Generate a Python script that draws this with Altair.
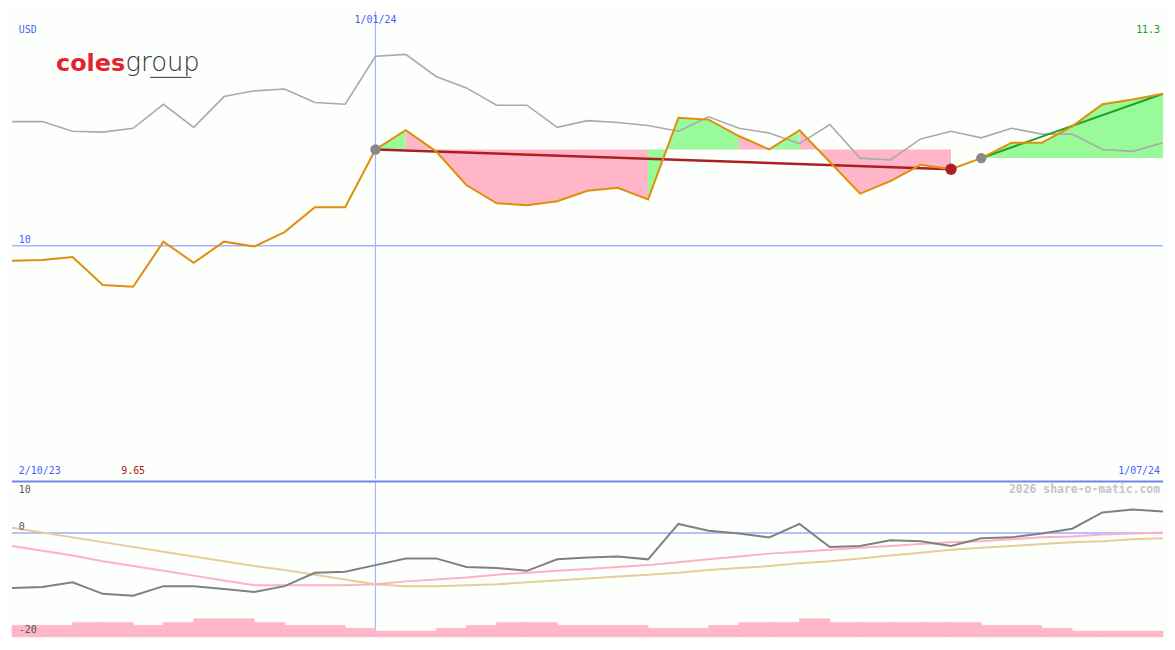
import altair as alt
import pandas as pd

# ---------------- data ----------------
idx = list(range(39))  # weekly points, 2/10/23 .. 1/07/24

price = [9.872, 9.880, 9.905, 9.666, 9.650, 10.036, 9.855, 10.036, 9.995, 10.118,
         10.331, 10.331, 10.824, 10.988, 10.808, 10.520, 10.364, 10.348, 10.381, 10.471,
         10.496, 10.397, 11.095, 11.079, 10.939, 10.824, 10.988, 10.717, 10.446, 10.553,
         10.693, 10.655, 10.750, 10.882, 10.882, 11.021, 11.210, 11.251, 11.300]

index_cmp = [11.062, 11.062, 10.980, 10.972, 11.005, 11.210, 11.013, 11.276, 11.325, 11.341,
             11.226, 11.210, 11.620, 11.637, 11.448, 11.350, 11.202, 11.202, 11.013, 11.070,
             11.054, 11.029, 10.980, 11.103, 11.005, 10.964, 10.873, 11.037, 10.750, 10.734,
             10.914, 10.980, 10.923, 11.005, 10.955, 10.955, 10.824, 10.808, 10.882]

osc = [-10.61, -10.43, -9.51, -11.72, -12.09, -10.25, -10.25, -10.80, -11.35, -10.25,
       -7.67, -7.49, -6.20, -4.91, -4.91, -6.57, -6.75, -7.30, -5.09, -4.72,
       -4.54, -5.09, 1.72, 0.43, -0.12, -0.86, 1.72, -2.70, -2.52, -1.41,
       -1.60, -2.52, -1.04, -0.86, -0.12, 0.80, 3.93, 4.48, 4.11]

pink_ma = [-2.52, -3.44, -4.36, -5.46, -6.38, -7.30, -8.22, -9.14, -10.06, -10.06,
           -10.06, -10.06, -9.88, -9.33, -8.96, -8.59, -8.04, -7.67, -7.30, -6.93,
           -6.56, -6.20, -5.64, -5.09, -4.54, -3.99, -3.62, -3.25, -2.88, -2.52,
           -2.15, -1.78, -1.60, -1.23, -0.86, -0.68, -0.31, -0.12, 0.06]

tan_ma = [0.98, 0.06, -0.86, -1.78, -2.70, -3.62, -4.54, -5.46, -6.38, -7.12,
          -8.04, -8.96, -9.88, -10.25, -10.25, -10.06, -9.88, -9.51, -9.14, -8.77,
          -8.41, -8.04, -7.67, -7.12, -6.75, -6.38, -5.83, -5.46, -4.91, -4.36,
          -3.80, -3.25, -2.88, -2.52, -2.15, -1.78, -1.60, -1.23, -1.04]

volume = [4.0, 4.0, 5.0, 5.0, 4.0, 5.0, 6.3, 6.3, 5.0, 4.0,
          4.0, 3.0, 2.0, 2.0, 3.0, 4.0, 5.0, 5.0, 4.0, 4.0,
          4.0, 3.0, 3.0, 4.0, 5.0, 5.0, 6.3, 5.0, 5.0, 5.0,
          5.0, 5.0, 4.0, 4.0, 3.0, 2.0, 2.0, 2.0]

trade1_start, trade1_end = 12, 31
trade1_buy, trade1_sell = 10.824, 10.655
trade1_fill = ["up", "down", "down", "down", "down", "down", "down", "down", "down",
               "up", "up", "up", "down", "up", "down", "down", "down", "down", "down"]
trade2_start, trade2_end = 32, 38
trade2_buy = 10.750

price_min, price_min_i = "9.65", 4
price_max = "11.3"

# ---------------- layout ----------------
W, H1, H2 = 1159, 471, 157
SX = W / 1175
SY = (H1 + H2) / 650
MONO = "DejaVu Sans Mono"
BLUE_TXT = "#4a5cff"

X = alt.X("i:Q", scale=alt.Scale(domain=[0, 38], nice=False, zero=False), axis=None)
PY = alt.Scale(domain=[8.008, 12.006], nice=False, zero=False)
LY = alt.Scale(domain=[-20, 10], nice=False, zero=False)
VY = alt.Scale(domain=[0, 54.33], nice=False, zero=False)

df = pd.DataFrame({"i": idx, "price": price, "cmp": index_cmp})

# group contiguous same-colour segments into runs (no seams inside a run)
rows = []
run = 0
prev = None
runs = []
for k, c in enumerate(trade1_fill):
    if c != prev:
        run += 1
        runs.append((run, c, trade1_start + k, trade1_start + k + 1, trade1_buy))
    else:
        r = runs[-1]
        runs[-1] = (r[0], r[1], r[2], trade1_start + k + 1, r[4])
    prev = c
run += 1
runs.append((run, "up", trade2_start, trade2_end, trade2_buy))
for rid, c, a, b, base in runs:
    for j in range(a, b + 1):
        rows.append({"run": rid, "i": j, "price": price[j], "base": base, "dir": c})
fill_df = pd.DataFrame(rows)

fills = alt.Chart(fill_df).mark_area(opacity=1, interpolate="linear").encode(
    x=X,
    y=alt.Y("price:Q", scale=PY, axis=None),
    y2="base:Q",
    color=alt.Color("dir:N", scale=alt.Scale(domain=["up", "down"], range=["#98fa98", "#ffb6c8"]), legend=None),
    detail="run:N",
)

grid10 = alt.Chart(pd.DataFrame({"p": [10.0]})).mark_rule(color="#a8b2ff", strokeWidth=1.5).encode(
    y=alt.Y("p:Q", scale=PY, axis=None))
vline_top = alt.Chart(pd.DataFrame({"i": [12]})).mark_rule(color="#a8b2ff", strokeWidth=1.2).encode(x=X)

cmp_line = alt.Chart(df).mark_line(color="#aaaaaa", strokeWidth=1.6).encode(
    x=X, y=alt.Y("cmp:Q", scale=PY, axis=None))

red_df = pd.DataFrame({"i": [trade1_start, trade1_end], "p": [trade1_buy, trade1_sell]})
red_line = alt.Chart(red_df).mark_line(color="#aa2020", strokeWidth=2.5).encode(
    x=X, y=alt.Y("p:Q", scale=PY, axis=None))
green_df = pd.DataFrame({"i": [trade2_start, trade2_end], "p": [trade2_buy, price[trade2_end]]})
green_line = alt.Chart(green_df).mark_line(color="#22a022", strokeWidth=2).encode(
    x=X, y=alt.Y("p:Q", scale=PY, axis=None))

price_line = alt.Chart(df).mark_line(color="#e08e0b", strokeWidth=2).encode(
    x=X, y=alt.Y("price:Q", scale=PY, axis=None))

buy_df = pd.DataFrame({"i": [trade1_start, trade2_start], "p": [trade1_buy, trade2_buy]})
buy_dots = alt.Chart(buy_df).mark_circle(color="#888888", opacity=1, size=110).encode(
    x=X, y=alt.Y("p:Q", scale=PY, axis=None))
sell_df = pd.DataFrame({"i": [trade1_end], "p": [trade1_sell]})
sell_dots = alt.Chart(sell_df).mark_circle(color="#aa2020", opacity=1, size=130).encode(
    x=X, y=alt.Y("p:Q", scale=PY, axis=None))

one = pd.DataFrame({"a": [0]})


def txt(text, x, y, color, align="left", size=10, weight="normal", font=MONO, baseline="middle"):
    return alt.Chart(one).mark_text(
        text=text, align=align, baseline=baseline, fontSize=size, font=font,
        fontWeight=weight, color=color,
    ).encode(x=x, y=y)


t_usd = txt("USD", alt.value(7 * SX), alt.value(20 * SY), BLUE_TXT)
t_date_top = alt.Chart(pd.DataFrame({"i": [12], "t": ["1/01/24"]})).mark_text(
    align="center", baseline="middle", fontSize=10, font=MONO, color=BLUE_TXT
).encode(x=X, y=alt.value(9 * SY), text="t:N")
t_10 = alt.Chart(pd.DataFrame({"p": [10.0], "t": ["10"]})).mark_text(
    align="left", baseline="bottom", fontSize=10, font=MONO, color=BLUE_TXT, dy=-1
).encode(x=alt.value(7 * SX), y=alt.Y("p:Q", scale=PY, axis=None), text="t:N")
t_max = txt(price_max, alt.value(W - 3), alt.value(20 * SY), "#229922", align="right")
t_start = txt("2/10/23", alt.value(7 * SX), alt.value(479 * SY), BLUE_TXT)
t_min = alt.Chart(pd.DataFrame({"i": [price_min_i], "t": [price_min]})).mark_text(
    align="center", baseline="middle", fontSize=10, font=MONO, color="#aa1515"
).encode(x=X, y=alt.value(479 * SY), text="t:N")
t_end = txt("1/07/24", alt.value(W - 3), alt.value(479 * SY), BLUE_TXT, align="right")

logo_coles = txt("coles", alt.value(45 * SX), alt.value(62 * SY), "#e3232b", size=24,
                 weight="bold", font="DejaVu Sans", baseline="alphabetic")
logo_group = txt("group", alt.value(116 * SX), alt.value(62 * SY), "#333333", size=26,
                 weight=300, font="DejaVu Sans", baseline="alphabetic")
logo_line = alt.Chart(one).mark_rule(color="#333333", strokeWidth=1).encode(
    x=alt.value(141 * SX), x2=alt.value(183 * SX), y=alt.value(69 * SY))

top = alt.layer(
    fills, grid10, vline_top, cmp_line, red_line, green_line, price_line,
    buy_dots, sell_dots, t_usd, t_date_top, t_10, t_max, t_start, t_min, t_end,
    logo_coles, logo_group, logo_line,
).properties(width=W, height=H1)

# ---------------- lower panel ----------------
low_df = pd.DataFrame({"i": idx, "osc": osc, "pink": pink_ma, "tan": tan_ma})
vol_df = pd.DataFrame({"i": idx[:-1], "i1": idx[1:], "vol": volume, "z": [0.0] * len(volume)})

zero_line = alt.Chart(pd.DataFrame({"v": [0.0]})).mark_rule(color="#a0aaff", strokeWidth=1.5).encode(
    y=alt.Y("v:Q", scale=LY, axis=None))
vline_low = alt.Chart(pd.DataFrame({"i": [12]})).mark_rule(color="#a8b2ff", strokeWidth=1.2).encode(x=X)
bars = alt.Chart(vol_df).mark_rect(color="#ffb6c8", stroke="#ffb6c8", strokeWidth=0.6).encode(
    x=X, x2="i1:Q", y=alt.Y("vol:Q", scale=VY, axis=None), y2="z:Q")
tan_line = alt.Chart(low_df).mark_line(color="#e6cc99", strokeWidth=2).encode(
    x=X, y=alt.Y("tan:Q", scale=LY, axis=None))
pink_line = alt.Chart(low_df).mark_line(color="#ffb0c8", strokeWidth=2).encode(
    x=X, y=alt.Y("pink:Q", scale=LY, axis=None))
osc_line = alt.Chart(low_df).mark_line(color="#808080", strokeWidth=2).encode(
    x=X, y=alt.Y("osc:Q", scale=LY, axis=None))
sep = alt.Chart(one).mark_rule(color="#7484ee", strokeWidth=2).encode(
    x=alt.value(0), x2=alt.value(W), y=alt.value(0.5))

lt10 = txt("10", alt.value(7 * SX), alt.value(9 * SY), "#555555")
lt0 = txt("0", alt.value(7 * SX), alt.value(48 * SY), "#555555")
lt20 = txt("-20", alt.value(7 * SX), alt.value(155 * SY), "#555555")
wm = txt("2026 share-o-matic.com", alt.value(W - 3), alt.value(9 * SY), "#c4c4c4",
         align="right", size=11.5, weight="bold")

lower = alt.layer(
    zero_line, vline_low, bars, tan_line, pink_line, osc_line, sep, lt10, lt0, lt20, wm
).resolve_scale(y="independent").properties(width=W, height=H2)

chart = alt.vconcat(top, lower, spacing=0).properties(
    padding=0, background="#fcfffc"
).configure_view(strokeWidth=0)

chart.save("out.html", embed_options={"renderer": "svg", "actions": False})
